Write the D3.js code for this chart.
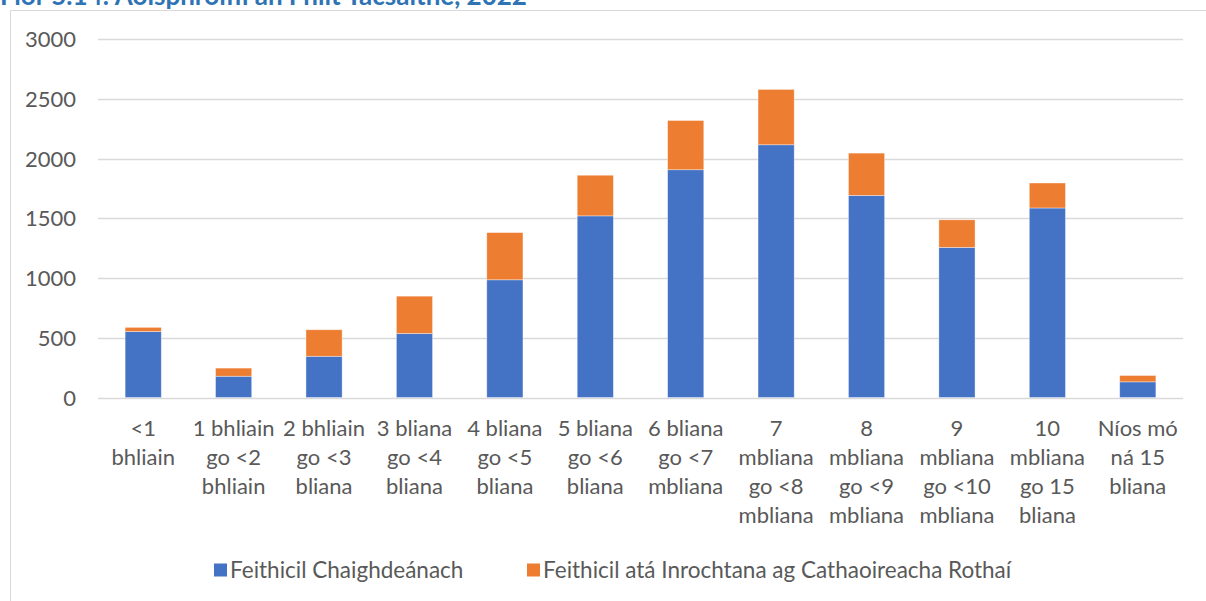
<!DOCTYPE html>
<html>
<head>
<meta charset="utf-8">
<script src="https://cdn.jsdelivr.net/npm/d3@7/dist/d3.min.js"></script>
<style>
  html, body { margin: 0; padding: 0; background: #fff; }
  svg { display: block; }
</style>
</head>
<body>
<svg id="chart" width="1206" height="601"></svg>
<script>
const title = "Fíor 5.14: Aoisphróifíl an Fhlít Tacsaithe, 2022";
const categories = [
  "<1\nbhliain",
  "1 bhliain\ngo <2\nbhliain",
  "2 bhliain\ngo <3\nbliana",
  "3 bliana\ngo <4\nbliana",
  "4 bliana\ngo <5\nbliana",
  "5 bliana\ngo <6\nbliana",
  "6 bliana\ngo <7\nmbliana",
  "7\nmbliana\ngo <8\nmbliana",
  "8\nmbliana\ngo <9\nmbliana",
  "9\nmbliana\ngo <10\nmbliana",
  "10\nmbliana\ngo 15\nbliana",
  "Níos mó\nná 15\nbliana"
];
const seriesNames = ["Feithicil Chaighdeánach", "Feithicil atá Inrochtana ag Cathaoireacha Rothaí"];
const standard   = [552, 178, 345, 535, 985, 1520, 1906, 2115, 1691, 1256, 1586, 131];
const accessible = [ 35,  68, 222, 313, 395,  340,  412,  463,  354,  231,  209,  53];
const yTicks = [0, 500, 1000, 1500, 2000, 2500, 3000];
const colors = ["#4472C4", "#ED7D31"];

const svg = d3.select("#chart");
const FONT = "Lato, 'Open Sans', sans-serif";
const TXT = "#595959";

// Chart frame
svg.append("rect").attr("x", 10.5).attr("y", 10.5).attr("width", 1210).attr("height", 600)
  .attr("fill", "#fff").attr("stroke", "#d9d9d9").attr("stroke-width", 1);

// Title (cut off at top, as in the reference)
svg.append("text").attr("x", 0).attr("y", 5)
  .attr("font-family", FONT).attr("font-weight", 700).attr("font-size", 26)
  .attr("fill", "#2E74B5").text(title);

const x = d3.scaleBand().domain(categories).range([98, 1183]).paddingInner(0.6).paddingOuter(0.3);
const y = d3.scaleLinear().domain([0, 3000]).range([397.5, 39]);

// Gridlines
svg.append("g").selectAll("line").data(yTicks).join("line")
  .attr("x1", 98).attr("x2", 1183)
  .attr("y1", d => Math.round(y(d)) + 0.5).attr("y2", d => Math.round(y(d)) + 0.5)
  .attr("stroke", "#d9d9d9").attr("stroke-width", 1.5);

// Y axis labels
const yAxis = d3.axisLeft(y).tickValues(yTicks).tickFormat(d3.format("d")).tickSize(0).tickPadding(0);
const yg = svg.append("g").attr("transform", "translate(76,0)").call(yAxis);
yg.select(".domain").remove();
yg.selectAll("text").attr("font-family", FONT).attr("font-size", 22).attr("fill", TXT).attr("dy", "0.35em");

// Stacked bars
const rows = categories.map((c, i) => ({ cat: c, s0: standard[i], s1: accessible[i] }));
const stack = d3.stack().keys(["s0", "s1"])(rows);
svg.append("g").selectAll("g").data(stack).join("g")
  .attr("fill", (d, i) => colors[i])
  .selectAll("rect").data(d => d).join("rect")
  .attr("x", d => x(d.data.cat))
  .attr("width", x.bandwidth())
  .attr("y", d => y(d[1]))
  .attr("height", d => y(d[0]) - y(d[1]))
  .attr("stroke", "#ffffff").attr("stroke-opacity", 0.5).attr("stroke-width", 0.75);

// X axis labels
const xAxis = d3.axisBottom(x).tickSize(0).tickPadding(0);
const xg = svg.append("g").attr("transform", "translate(0,398)").call(xAxis);
xg.select(".domain").remove();
xg.selectAll("text").each(function(d) {
  const t = d3.select(this);
  t.text(null).attr("font-family", FONT).attr("font-size", 22).attr("fill", TXT).attr("dy", null).attr("y", 0);
  d.split("\n").forEach((line, i) => {
    t.append("tspan").attr("x", 0).attr("y", 38 + i * 29).text(line);
  });
});

// Legend
const legendX = [214, 527];
const lg = svg.append("g").selectAll("g").data(seriesNames).join("g")
  .attr("transform", (d, i) => `translate(${legendX[i]},570)`);
lg.append("rect").attr("x", 0).attr("y", -6.5).attr("width", 13).attr("height", 13)
  .attr("fill", (d, i) => colors[i]);
lg.append("text").attr("x", 16).attr("y", 0).attr("dy", "0.35em")
  .attr("font-family", FONT).attr("font-size", 22.5).attr("fill", TXT).text(d => d);
</script>
</body>
</html>
